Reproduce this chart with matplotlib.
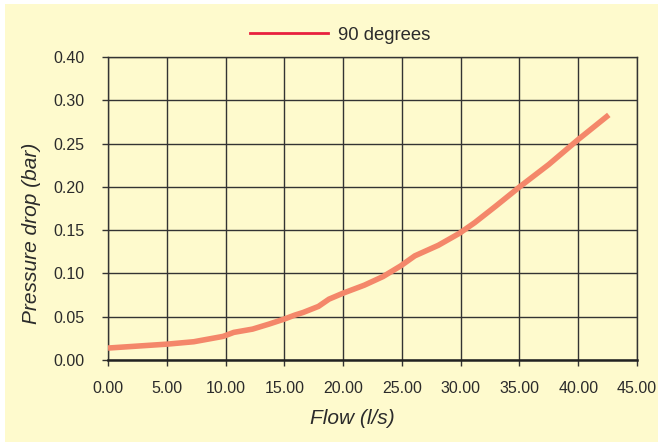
import matplotlib
matplotlib.use("Agg")
import matplotlib.pyplot as plt
from matplotlib.lines import Line2D
from matplotlib.patches import Rectangle

# data
flow = [0.0, 5.1, 7.3, 9.8, 10.7, 12.3, 13.7, 15.0, 15.9, 16.6, 17.9, 18.8,
        20.0, 21.8, 23.4, 24.9, 26.1, 28.1, 29.9, 31.2, 33.0, 35.1, 37.5,
        40.0, 42.6]
pressure = [0.0138, 0.0184, 0.0211, 0.0273, 0.0319, 0.0357, 0.0415, 0.0473,
            0.0519, 0.0549, 0.0619, 0.0703, 0.0772, 0.0864, 0.0964, 0.1087,
            0.1203, 0.1325, 0.1464, 0.1587, 0.1779, 0.2009, 0.2259, 0.2547,
            0.2831]
x_ticks = [0, 5, 10, 15, 20, 25, 30, 35, 40, 45]
x_labels = ["0.00", "5.00", "10.00", "15.00", "20.00", "25.00", "30.00",
            "35.00", "40.00", "45.00"]
y_ticks = [0.0, 0.05, 0.10, 0.15, 0.20, 0.25, 0.30, 0.35]
y_labels = ["0.00", "0.05", "0.10", "0.15", "0.20", "0.25", "0.30", "0.40"]
series_name = "90 degrees"

BG = "#fefacd"
TEXT = "#2b2b2b"

plt.rcParams["font.family"] = ["Liberation Sans", "DejaVu Sans"]

fig = plt.figure(figsize=(6.61, 4.42), dpi=100)
fig.patch.set_facecolor("white")
fig.patches.append(Rectangle((5 / 661, 0.0), 653 / 661, 438 / 442,
                             transform=fig.transFigure, facecolor=BG,
                             edgecolor="none", zorder=-10))

ax = fig.add_axes([108 / 661, 1 - 360 / 442, 529 / 661, 303 / 442])
ax.set_facecolor(BG)

ax.plot(flow, pressure, color="#f4876a", linewidth=4.0,
        solid_capstyle="butt", zorder=3)

ax.set_xlim(0, 45)
ax.set_ylim(0, 0.35)
ax.set_xticks(x_ticks)
ax.set_xticklabels(x_labels)
ax.set_yticks(y_ticks)
ax.set_yticklabels(y_labels)
ax.grid(True, color="#333333", linewidth=1.0)
ax.set_axisbelow(True)

ax.tick_params(axis="both", colors="#333333", labelcolor=TEXT,
               labelsize=11.5, length=4, width=1)
ax.tick_params(axis="y", pad=13)
ax.tick_params(axis="x", pad=11)

for side in ["top", "right"]:
    ax.spines[side].set_color("#333333")
    ax.spines[side].set_linewidth(1.0)
ax.spines["left"].set_color("#333333")
ax.spines["left"].set_linewidth(1.0)
ax.spines["bottom"].set_color("#222222")
ax.spines["bottom"].set_linewidth(1.8)

fig.text(352 / 661, 1 - 418 / 442, "Flow (l/s)", ha="center", va="center",
         fontsize=15, style="italic", color=TEXT)
fig.text(32 / 661, 1 - 233 / 442, "Pressure drop (bar)", ha="center",
         va="center", rotation=90, fontsize=15, style="italic", color=TEXT)

handle = Line2D([0], [0], color="#e8203e", linewidth=2.0)
fig.legend([handle], [series_name], loc="center",
           bbox_to_anchor=(340 / 661, 1 - 35 / 442), frameon=False,
           fontsize=13.3, handlelength=4.2, handletextpad=0.55,
           labelcolor=TEXT)

fig.savefig("out.png", dpi=100, facecolor=fig.get_facecolor())
